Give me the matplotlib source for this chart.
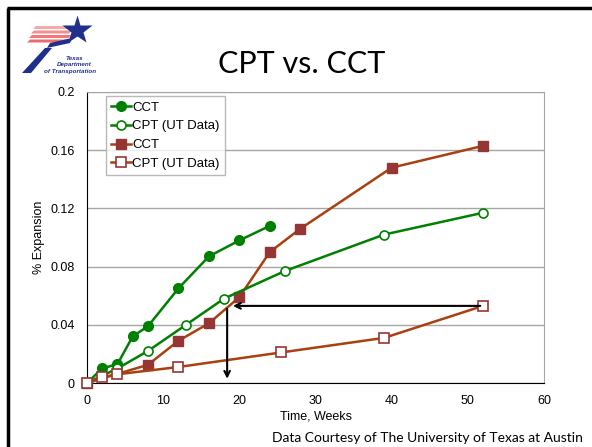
import numpy as np
import matplotlib
matplotlib.use("Agg")
import matplotlib.pyplot as plt
from matplotlib.patches import Polygon

# values
cct_green_x = [0, 2, 4, 6, 8, 12, 16, 20, 24]
cct_green_y = [0, 0.010, 0.013, 0.032, 0.039, 0.065, 0.087, 0.098, 0.108]

cpt_green_x = [0, 4, 8, 13, 18, 26, 39, 52]
cpt_green_y = [0, 0.010, 0.022, 0.040, 0.058, 0.077, 0.102, 0.117]

cct_red_x = [0, 8, 12, 16, 20, 24, 28, 40, 52]
cct_red_y = [0, 0.0125, 0.029, 0.041, 0.059, 0.090, 0.106, 0.148, 0.163]

cpt_red_x = [0, 2, 4, 12, 25.5, 39, 52]
cpt_red_y = [0, 0.004, 0.006, 0.011, 0.021, 0.031, 0.053]

series_labels = ["CCT", "CPT (UT Data)", "CCT", "CPT (UT Data)"]
y_ticks = [0, 0.04, 0.08, 0.12, 0.16, 0.2]
y_tick_labels = ["0", "0.04", "0.08", "0.12", "0.16", "0.2"]
x_ticks = [0, 10, 20, 30, 40, 50, 60]

# arrow: from last CPT point back to ~18.5 weeks, then down
arrow_y = 0.053
arrow_x_start = 52
arrow_x_end = 18.8
arrow_x_down = 18.4

green = "#008000"
red_line = "#a8400f"
red_mark = "#963634"

plt.rcParams['font.family'] = ['Liberation Sans', 'DejaVu Sans']

fig = plt.figure(figsize=(5.92, 4.47), dpi=100)
ax = fig.add_axes([87 / 592, 64 / 447, 457 / 592, 291 / 447])

lw = 1.8
ax.plot(cct_green_x, cct_green_y, color=green, lw=lw, marker='o', ms=7,
        mfc=green, mec=green, label=series_labels[0], zorder=4, clip_on=False)
ax.plot(cpt_green_x, cpt_green_y, color=green, lw=lw, marker='o', ms=6.5,
        mfc='white', mec=green, mew=1.2, label=series_labels[1], zorder=4, clip_on=False)
ax.plot(cct_red_x, cct_red_y, color=red_line, lw=lw, marker='s', ms=7,
        mfc=red_mark, mec=red_mark, label=series_labels[2], zorder=3, clip_on=False)
ax.plot(cpt_red_x, cpt_red_y, color=red_line, lw=lw, marker='s', ms=7,
        mfc='white', mec=red_mark, mew=1.2, label=series_labels[3], zorder=5, clip_on=False)

ax.annotate("", xy=(arrow_x_end, arrow_y), xytext=(arrow_x_start, arrow_y),
            arrowprops=dict(arrowstyle='->', color='black', lw=1.5), zorder=6)
ax.annotate("", xy=(arrow_x_down, 0.001), xytext=(arrow_x_down, arrow_y),
            arrowprops=dict(arrowstyle='->', color='black', lw=1.5), zorder=6)

ax.set_xlim(0, 60)
ax.set_ylim(0, 0.2)
ax.set_xticks(x_ticks)
ax.set_yticks(y_ticks)
ax.set_yticklabels(y_tick_labels)
ax.tick_params(length=0, labelsize=9)
ax.tick_params(axis='x', pad=9)
ax.tick_params(axis='y', pad=9)
ax.yaxis.grid(True, color='#a6a6a6', lw=1)
ax.set_axisbelow(True)
for s in ['top', 'right']:
    ax.spines[s].set_color('#a6a6a6')
for s in ['left', 'bottom']:
    ax.spines[s].set_color('black')
ax.set_xlabel("Time, Weeks", fontsize=9, labelpad=2)
ax.set_ylabel("% Expansion", fontsize=9, labelpad=4)

leg = ax.legend(loc='upper left', bbox_to_anchor=(0.0416, 0.986), borderaxespad=0,
                fontsize=9.5, frameon=True, fancybox=False, handlelength=1.5,
                handletextpad=0.1, labelspacing=0.5, borderpad=0.4)
leg.get_frame().set_edgecolor('#a6a6a6')
leg.get_frame().set_linewidth(1)

# slide decoration: title, footer, border, logo
fig.text(302 / 592, 1 - 64 / 447, "CPT vs. CCT", fontsize=22, family=['Lato', 'DejaVu Sans'],
         ha='center', va='center')
fig.text(583 / 592, 1 - 438 / 447, "Data Courtesy of The University of Texas at Austin",
         fontsize=10, family=['Lato', 'DejaVu Sans'], ha='right', va='center')

ov = fig.add_axes([0, 0, 1, 1], zorder=10)
ov.set_xlim(0, 592)
ov.set_ylim(447, 0)
ov.axis('off')
ov.patch.set_alpha(0)
ov.plot([8, 8], [7.5, 447], color='black', lw=2.5, solid_capstyle='butt')
ov.plot([7, 592], [7.5, 7.5], color='black', lw=2.5, solid_capstyle='butt')

# red speed stripes
for i, c in enumerate(['#f7a8a8', '#f49090', '#f07878', '#ee6a6a']):
    y0 = 26 + i * 4.5
    ov.add_patch(Polygon([[33 - i * 2, y0 + 3], [36 - i * 2, y0], [72, y0], [69, y0 + 3]],
                         closed=True, fc=c, ec='none'))
# blue diagonal bar
ov.add_patch(Polygon([[45, 48], [52, 48], [31, 73], [22, 73]], closed=True, fc='#1f2f8a', ec='none'))
ov.add_patch(Polygon([[50, 43], [72, 38], [70, 43], [47, 48]], closed=True, fc='#1f2f8a', ec='none'))
ov.plot([77], [30], marker='*', ms=22, color='#1f2f8a', mec='none')
for k, t in enumerate(["Texas", "Department", "of Transportation"]):
    ov.text(74 - (k == 2) * 4, 58 + k * 6.5, t, fontsize=4.5, style='italic', weight='bold',
            color='#1f2f8a', ha='center', va='center')

fig.savefig("out.png", dpi=100)
